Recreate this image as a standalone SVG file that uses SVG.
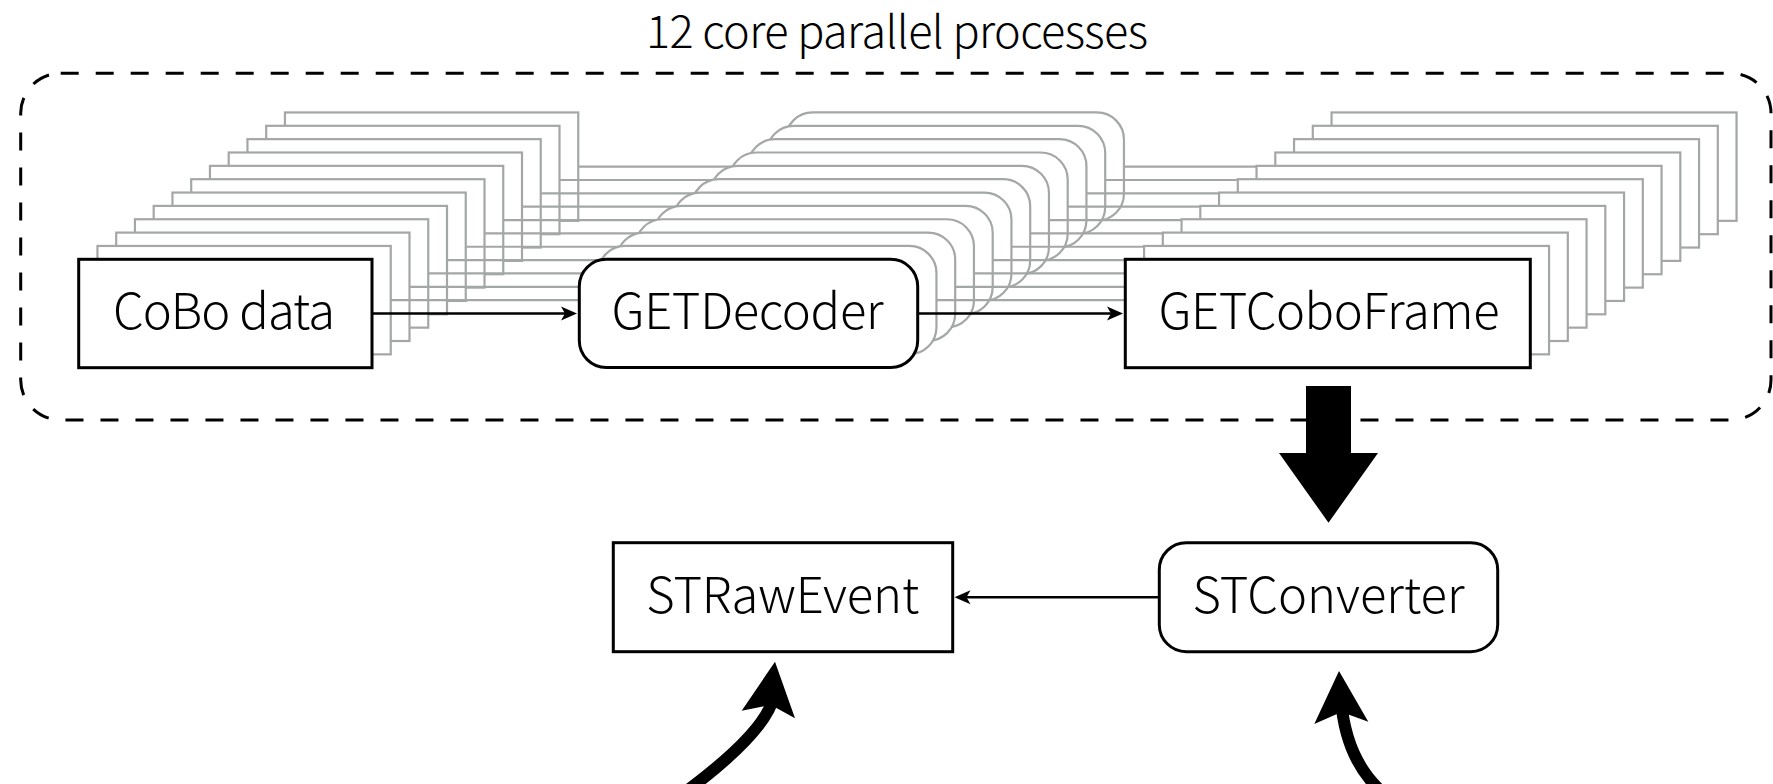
<svg xmlns="http://www.w3.org/2000/svg" xmlns:xlink="http://www.w3.org/1999/xlink" width="1773" height="784" viewBox="0 0 1773 784">
<style>
  .lbl { font-family: "Noto Sans CJK KR", "Noto Sans", "Liberation Sans", sans-serif; font-weight: 300; font-size: 49px; fill: #000; text-anchor: middle; }
  .title { font-family: "Noto Sans CJK KR", "Noto Sans", "Liberation Sans", sans-serif; font-weight: 300; font-size: 45px; fill: #000; text-anchor: middle; }
  .box { fill: #fff; stroke: #000; stroke-width: 3; }
  .ghost { fill: #fff; stroke: #a3a7a5; stroke-width: 2.2; }
  .conn { stroke: #000; stroke-width: 2.5; fill: none; }
  .thick { stroke: #000; stroke-width: 12; fill: none; }
</style>
<defs>
  <marker id="ah" markerUnits="userSpaceOnUse" markerWidth="20" markerHeight="16" viewBox="-14 -8 20 16" refX="0" refY="0" orient="auto">
    <path d="M4,0 L-12,-7 L-8,0 L-12,7 Z" fill="#000" stroke="none"/>
  </marker>
  <g id="layer">
    <rect x="78.7" y="259.3" width="293.3" height="108.4"/>
    <line x1="372" y1="313.5" x2="579.3" y2="313.5"/>
    <rect x="579.3" y="259.3" width="338.4" height="108.2" rx="27"/>
    <line x1="917.7" y1="313.5" x2="1125.3" y2="313.5"/>
    <rect x="1125.3" y="259.3" width="405" height="108.4"/>
  </g>
</defs>

<g id="container">
  <rect x="20.7" y="73.3" width="1750.3" height="346.7" rx="40" fill="none" stroke="#000" stroke-width="3" stroke-dasharray="18 17"/>
  <text class="title" x="897" y="48" textLength="502">12 core parallel processes</text>
</g>

<g id="parallel-stack" class="ghost">
  <use xlink:href="#layer" transform="translate(206.25,-146.85)"/>
  <use xlink:href="#layer" transform="translate(187.5,-133.5)"/>
  <use xlink:href="#layer" transform="translate(168.75,-120.15)"/>
  <use xlink:href="#layer" transform="translate(150,-106.8)"/>
  <use xlink:href="#layer" transform="translate(131.25,-93.45)"/>
  <use xlink:href="#layer" transform="translate(112.5,-80.1)"/>
  <use xlink:href="#layer" transform="translate(93.75,-66.75)"/>
  <use xlink:href="#layer" transform="translate(75,-53.4)"/>
  <use xlink:href="#layer" transform="translate(56.25,-40.05)"/>
  <use xlink:href="#layer" transform="translate(37.5,-26.7)"/>
  <use xlink:href="#layer" transform="translate(18.75,-13.35)"/>
</g>

<g id="connectors">
  <line class="conn" x1="372" y1="313.5" x2="573" y2="313.5" marker-end="url(#ah)"/>
  <line class="conn" x1="917.7" y1="313.5" x2="1119" y2="313.5" marker-end="url(#ah)"/>
  <line class="conn" x1="1159.3" y1="597.3" x2="958.5" y2="597.3" marker-end="url(#ah)"/>
  <polygon points="1306,386 1351,386 1351,453 1378,453 1328.5,522.7 1279,453 1306,453" fill="#000"/>
  <path class="thick" d="M 688 790 Q 768 730 774 695"/>
  <polygon points="775,661.7 795,718.3 771,705 741.7,710.7" fill="#000"/>
  <path class="thick" d="M 1382 792 Q 1346 760 1341 700"/>
  <polygon points="1339,671 1368.3,721.7 1341.5,712 1314.3,724" fill="#000"/>
</g>

<g id="cobo-data">
  <rect class="box" x="78.7" y="259.3" width="293.3" height="108.4"/>
  <text class="lbl" x="224" y="329.3" textLength="222">CoBo data</text>
</g>
<g id="getdecoder">
  <rect class="box" x="579.3" y="259.3" width="338.4" height="108.2" rx="27"/>
  <text class="lbl" x="747.5" y="329.3" textLength="272">GETDecoder</text>
</g>
<g id="getcoboframe">
  <rect class="box" x="1125.3" y="259.3" width="405" height="108.4"/>
  <text class="lbl" x="1329" y="329.3" textLength="341">GETCoboFrame</text>
</g>
<g id="strawevent">
  <rect class="box" x="613.3" y="542.7" width="339.4" height="109" stroke-width="2.5"/>
  <text class="lbl" x="782.7" y="612.7" textLength="273">STRawEvent</text>
</g>
<g id="stconverter">
  <rect class="box" x="1159.3" y="542.7" width="338.4" height="109" rx="27" stroke-width="2.5"/>
  <text class="lbl" x="1328.5" y="612.7" textLength="272">STConverter</text>
</g>
</svg>
